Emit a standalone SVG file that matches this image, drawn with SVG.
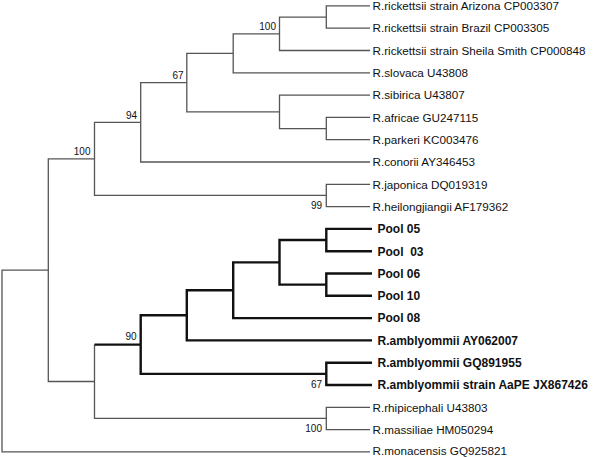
<svg xmlns="http://www.w3.org/2000/svg" width="600" height="457" viewBox="0 0 600 457">
<style>
.t{fill:none;stroke:#555;stroke-width:1.3;stroke-linejoin:miter}
.k{fill:none;stroke:#111;stroke-width:2.4;stroke-linejoin:miter}
.lf{font-family:"Liberation Sans",Arial,sans-serif;font-size:11.7px;fill:#111}
.lb{font-family:"Liberation Sans",Arial,sans-serif;font-size:12px;font-weight:bold;fill:#111}
.bs{font-family:"Liberation Sans",Arial,sans-serif;font-size:10px;fill:#111;text-anchor:end}
</style>
<rect width="600" height="457" fill="#fff"/>
<g id="connectors">
  <path class="t" d="M48.3,270.2 H2 V451.9 H370"/>
  <path class="t" d="M94.5,158.9 H48.3 V381.5 H94.5"/>
  <path class="t" d="M140.7,122.3 H94.5 V195.45 H326.3"/>
  <path class="t" d="M370,184.3 H326.3 V206.6 H370"/>
  <path class="t" d="M186.8,82.55 H140.7 V162 H370"/>
  <path class="t" d="M233.2,53.3 H186.8 V111.8 H279.5"/>
  <path class="t" d="M279.5,33.8 H233.2 V72.8 H370"/>
  <path class="t" d="M326.3,17.05 H279.5 V50.5 H370"/>
  <path class="t" d="M370,5.9 H326.3 V28.2 H370"/>
  <path class="t" d="M370,95.1 H279.5 V128.55 H326.3"/>
  <path class="t" d="M370,117.4 H326.3 V139.7 H370"/>
  <path class="t" d="M326.3,418.45 H94.5 V344.6"/>
  <path class="t" d="M370,407.3 H326.3 V429.6 H370"/>
  <path class="k" d="M94.5,344.6 H140.7"/>
  <path class="k" d="M186.8,315.3 H140.7 V373.85 H326.3"/>
  <path class="k" d="M233.2,290.2 H186.8 V340.4 H372"/>
  <path class="k" d="M279.5,262.35 H233.2 V318.1 H372"/>
  <path class="k" d="M326.3,240.05 H279.5 V284.65 H326.3"/>
  <path class="k" d="M372,228.9 H326.3 V251.2 H372"/>
  <path class="k" d="M372,273.5 H326.3 V295.8 H372"/>
  <path class="k" d="M372,362.7 H326.3 V385 H372"/>
</g>
<g id="bootstrap">
  <text class="bs" x="276" y="29.5">100</text>
  <text class="bs" x="183.5" y="78.8">67</text>
  <text class="bs" x="137" y="118.7">94</text>
  <text class="bs" x="90.5" y="154.7">100</text>
  <text class="bs" x="322" y="209">99</text>
  <text class="bs" x="136.5" y="339.8">90</text>
  <text class="bs" x="322" y="388">67</text>
  <text class="bs" x="322" y="432">100</text>
</g>
<g id="leaf-arizona"><text class="lf" x="372.5" y="10.1">R.rickettsii strain Arizona CP003307</text></g>
<g id="leaf-brazil"><text class="lf" x="372.5" y="32.4">R.rickettsii strain Brazil CP003305</text></g>
<g id="leaf-sheila"><text class="lf" x="372.5" y="54.7">R.rickettsii strain Sheila Smith CP000848</text></g>
<g id="leaf-slovaca"><text class="lf" x="372.5" y="77">R.slovaca U43808</text></g>
<g id="leaf-sibirica"><text class="lf" x="372.5" y="99.3">R.sibirica U43807</text></g>
<g id="leaf-africae"><text class="lf" x="372.5" y="121.6">R.africae GU247115</text></g>
<g id="leaf-parkeri"><text class="lf" x="372.5" y="143.9">R.parkeri KC003476</text></g>
<g id="leaf-conorii"><text class="lf" x="372.5" y="166.2">R.conorii AY346453</text></g>
<g id="leaf-japonica"><text class="lf" x="372.5" y="188.5">R.japonica DQ019319</text></g>
<g id="leaf-heilongjiangii"><text class="lf" x="372.5" y="210.8">R.heilongjiangii AF179362</text></g>
<g id="leaf-pool05"><text class="lb" x="377.5" y="233.2">Pool 05</text></g>
<g id="leaf-pool03"><text class="lb" x="377.5" y="255.5" style="white-space:pre">Pool  03</text></g>
<g id="leaf-pool06"><text class="lb" x="377.5" y="277.8">Pool 06</text></g>
<g id="leaf-pool10"><text class="lb" x="377.5" y="300.1">Pool 10</text></g>
<g id="leaf-pool08"><text class="lb" x="377.5" y="322.4">Pool 08</text></g>
<g id="leaf-ay062007"><text class="lb" x="377.5" y="344.7">R.amblyommii AY062007</text></g>
<g id="leaf-gq891955"><text class="lb" x="377.5" y="367">R.amblyommii GQ891955</text></g>
<g id="leaf-aape"><text class="lb" x="377.5" y="389.3">R.amblyommii strain AaPE JX867426</text></g>
<g id="leaf-rhipicephali"><text class="lf" x="372.5" y="411.5">R.rhipicephali U43803</text></g>
<g id="leaf-massiliae"><text class="lf" x="372.5" y="433.8">R.massiliae HM050294</text></g>
<g id="leaf-monacensis"><text class="lf" x="372.5" y="454.6">R.monacensis GQ925821</text></g>
</svg>
